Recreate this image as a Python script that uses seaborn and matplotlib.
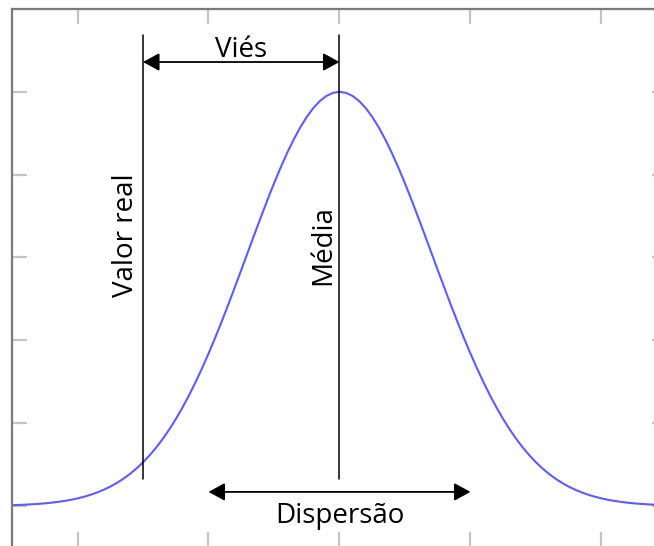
import numpy as np
import matplotlib
matplotlib.use("Agg")
import matplotlib.pyplot as plt
import seaborn as sns

# Distribution parameters
true_value = -1.5      # "Valor real"
mean_value = 0.0       # "Média"
sigma = 0.7071         # spread of the measurements
spread_halfwidth = 1.0 # half-width of the "Dispersão" arrow

x_ticks = [-2, -1, 0, 1, 2]
y_ticks = [0.0, 0.2, 0.4, 0.6, 0.8, 1.0]

sns.set_style("ticks")
plt.rcParams["font.family"] = ["Open Sans", "DejaVu Sans"]

x = np.linspace(-2.5, 2.5, 101)
y = np.exp(-((x - mean_value) ** 2) / (2 * sigma ** 2))

fig = plt.figure(figsize=(6.54, 5.46), dpi=100)
ax = fig.add_axes([12 / 654, -1.4 / 546, 655 / 654, 538.4 / 546])

sns.lineplot(x=x, y=y, ax=ax, color="#5c5cff", linewidth=1.5)

ax.set_xlim(-2.5, 2.5)
ax.set_ylim(-0.1, 1.2)
ax.set_xticks(x_ticks)
ax.set_yticks(y_ticks)
ax.set_xticklabels([])
ax.set_yticklabels([])
ax.set_xlabel("")
ax.set_ylabel("")
ax.tick_params(direction="in", length=10.5, width=1.6, color="#c4c4c4",
               top=True, right=True, bottom=True, left=True)
for s in ax.spines.values():
    s.set_visible(True)
    s.set_color("#7a7a7a")
    s.set_linewidth(1.6)

line_kw = dict(color="black", linewidth=1.1)
ax.plot([true_value, true_value], [0.065, 1.138], **line_kw)
ax.plot([mean_value, mean_value], [0.065, 1.138], **line_kw)

arrow_kw = dict(arrowstyle="<|-|>,head_length=0.55,head_width=0.3",
                color="black", lw=1.3, shrinkA=0, shrinkB=0,
                mutation_scale=18)
ax.annotate("", xy=(true_value, 1.072), xytext=(mean_value, 1.072),
            arrowprops=arrow_kw)
ax.annotate("", xy=(mean_value - spread_halfwidth, 0.034),
            xytext=(mean_value + spread_halfwidth, 0.034),
            arrowprops=arrow_kw)

fs = 20
txt = dict(fontsize=fs, color="black")
ax.text((true_value + mean_value) / 2, 1.085, "Viés", ha="center",
        va="baseline", **txt)
ax.text(mean_value, -0.041, "Dispersão", ha="center", va="baseline", **txt)
ax.text(-1.626, 0.655, "Valor real", rotation=90, ha="center", va="center",
        **txt)
ax.text(-0.126, 0.63, "Média", rotation=90, ha="center", va="center", **txt)

fig.savefig("out.png", dpi=100)
